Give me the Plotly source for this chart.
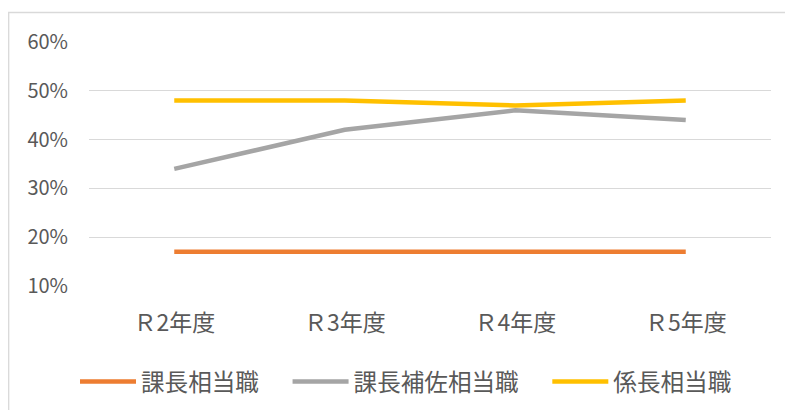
import plotly.graph_objects as go

categories = ["Ｒ2年度", "Ｒ3年度", "Ｒ4年度", "Ｒ5年度"]
series_names = ["課長相当職", "課長補佐相当職", "係長相当職"]
kacho = [17, 17, 17, 17]
hosa = [34, 42, 46, 44]
kakaricho = [48, 48, 47, 48]
y_ticks = [10, 20, 30, 40, 50, 60]

colors = ["#ED7D31", "#A5A5A5", "#FFC000"]
FONT = "Noto Sans CJK JP"
TXT = "#595959"

# page has an 8px body margin; figure sized/positioned to compensate
W, H = 785, 402
L, R, T, B = 81, 22, 34, 124
pw, ph = W - L - R, H - T - B

fig = go.Figure()
for name, vals, c in zip(series_names, [kacho, hosa, kakaricho], colors):
    fig.add_trace(go.Scatter(
        x=categories, y=vals, name=name + "\u3000", mode="lines",
        line=dict(color=c, width=4.5, shape="linear"),
    ))

def px2x(px):
    return (px - L) / pw

def px2y(py):
    return 1 - (py - T) / ph

fig.update_layout(
    width=W, height=H,
    margin=dict(l=L, r=R, t=T, b=B, autoexpand=False),
    paper_bgcolor="white", plot_bgcolor="white",
    font=dict(family=FONT, size=23, color=TXT),
    showlegend=True,
    legend=dict(
        orientation="h", x=px2x(67), xanchor="left",
        y=px2y(373.7), yanchor="middle",
        font=dict(family=FONT, size=23.6, color=TXT),
        bgcolor="rgba(0,0,0,0)", traceorder="normal",
        itemwidth=56,
    ),
    xaxis=dict(
        type="category", range=[-0.5, 3.5],
        showgrid=False, showline=False, zeroline=False,
        ticks="", tickfont=dict(family=FONT, size=23, color=TXT),
        ticklabelstandoff=21,
    ),
    yaxis=dict(
        range=[10, 60], tickvals=y_ticks, ticktext=[f"{v}%" for v in y_ticks],
        showgrid=True, gridcolor="#D9D9D9", gridwidth=1.3,
        showline=False, zeroline=False, ticks="",
        tickfont=dict(family=FONT, size=20, color=TXT),
        ticklabelstandoff=20,
    ),
    shapes=[dict(
        type="rect", xref="paper", yref="paper",
        x0=px2x(0.7), x1=px2x(900), y0=px2y(500), y1=px2y(4.5),
        line=dict(color="#D9D9D9", width=1.3), fillcolor="rgba(0,0,0,0)",
        layer="below",
    )],
)

fig.write_html("out.html")
